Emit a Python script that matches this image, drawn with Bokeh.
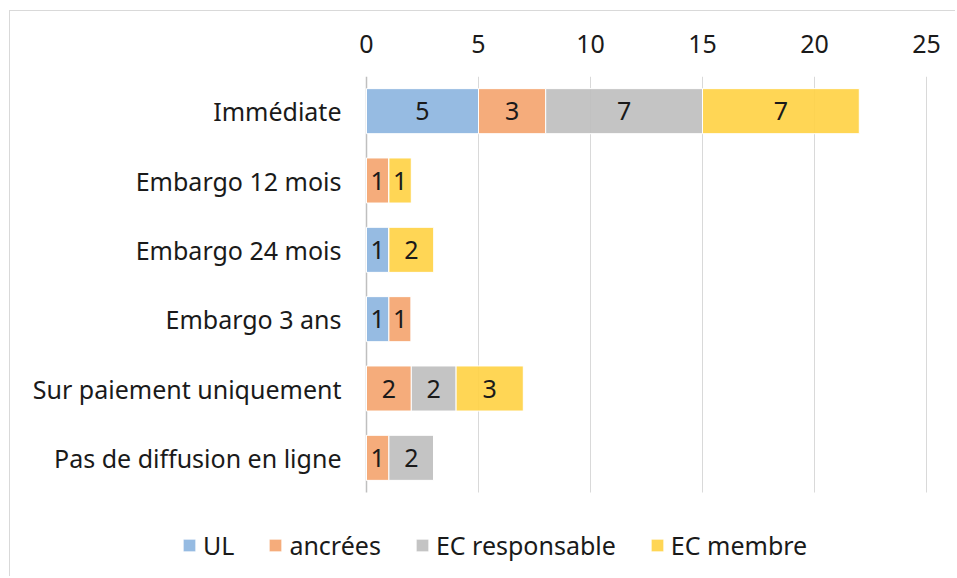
from bokeh.plotting import figure
from bokeh.models import ColumnDataSource, Legend, LegendItem, Range1d
from bokeh.core.properties import value
from bokeh.embed import file_html
from bokeh.resources import INLINE

categories = ["Immédiate", "Embargo 12 mois", "Embargo 24 mois", "Embargo 3 ans",
              "Sur paiement uniquement", "Pas de diffusion en ligne"]
series = ["UL", "ancrées", "EC responsable", "EC membre"]
ul = [5, 0, 1, 1, 0, 0]
ancrees = [3, 1, 0, 1, 2, 1]
ec_resp = [7, 0, 0, 0, 2, 2]
ec_membre = [7, 1, 2, 0, 3, 0]
colors = ["#8DB5E0", "#F4A570", "#BFBFBF", "#FFD246"]
x_ticks = [0, 5, 10, 15, 20, 25]

FONT = "Noto Sans"
FS = "25px"
TXT = "#1a1a1a"

n = len(categories)
ypos = [n - 1 - i for i in range(n)]  # first category on top
data = {"y": ypos, "UL": ul, "ancrées": ancrees,
        "EC responsable": ec_resp, "EC membre": ec_membre}
src = ColumnDataSource(data)

W, H = 946, 566
X0PX = 356                       # px from figure left to value 0
PXU = 560 / x_ticks[-1]          # px per unit
FT = 65
ROW = 416 / n                    # px per category
FB = 5
FH = H - FT - FB
top = n - 0.5
bottom = top - FH / ROW
xs = -X0PX / PXU
xe = xs + W / PXU

p = figure(x_range=Range1d(xs, xe), y_range=Range1d(bottom, top), width=W, height=H,
           output_backend="svg", toolbar_location=None, x_axis_location="above",
           min_border_left=0, min_border_top=FT, min_border_right=0, min_border_bottom=FB)
p.outline_line_color = None

# vertical gridlines over the category area, and the category axis line
p.segment(x0=x_ticks[1:], x1=x_ticks[1:], y0=[-0.5] * (len(x_ticks) - 1),
          y1=[top] * (len(x_ticks) - 1), line_color="#D9D9D9", line_width=1, level="underlay")
p.segment(x0=[0], x1=[0], y0=[-0.5], y1=[top], line_color="#BFBFBF", line_width=1.5)

renderers = p.hbar_stack(series, y="y", height=0.65, color=colors, source=src,
                         line_color="white", line_width=1, fill_alpha=0.92)

# value labels
lx, ly, lt = [], [], []
cols = [ul, ancrees, ec_resp, ec_membre]
for i in range(n):
    left = 0
    for s in cols:
        v = s[i]
        if v:
            lx.append(left + v / 2)
            ly.append(ypos[i])
            lt.append(str(v))
        left += v
p.text(x=lx, y=ly, text=lt, text_align="center", text_baseline="middle",
       text_font=value(FONT), text_font_size=FS, text_color=TXT)

# category labels
p.text(x=[0] * n, y=ypos, text=categories, x_offset=-25, text_align="right",
       text_baseline="middle", text_font=value(FONT), text_font_size=FS, text_color=TXT)

legend = Legend(items=[LegendItem(label=s, renderers=[r]) for s, r in zip(series, renderers)],
                orientation="horizontal", location=(171, 10))
legend.border_line_color = None
legend.background_fill_alpha = 0
legend.label_text_font = FONT
legend.label_text_font_size = FS
legend.label_text_color = TXT
legend.glyph_width = 16
legend.glyph_height = 16
legend.label_standoff = 6
legend.spacing = 33
legend.padding = 0
legend.margin = 0
p.add_layout(legend, "center")

p.xaxis.ticker = x_ticks
p.xaxis.axis_line_color = None
p.xaxis.major_tick_line_color = None
p.xaxis.minor_tick_line_color = None
p.xaxis.major_label_standoff = 18
p.xaxis.major_label_text_font = FONT
p.xaxis.major_label_text_font_size = FS
p.xaxis.major_label_text_color = TXT
p.yaxis.visible = False

p.xgrid.grid_line_color = None
p.ygrid.grid_line_color = None
p.styles = {"border-left": "1px solid #D9D9D9", "border-top": "1px solid #D9D9D9",
            "margin-left": "9px", "margin-top": "10px"}

open("out.html", "w").write(file_html(p, INLINE))
